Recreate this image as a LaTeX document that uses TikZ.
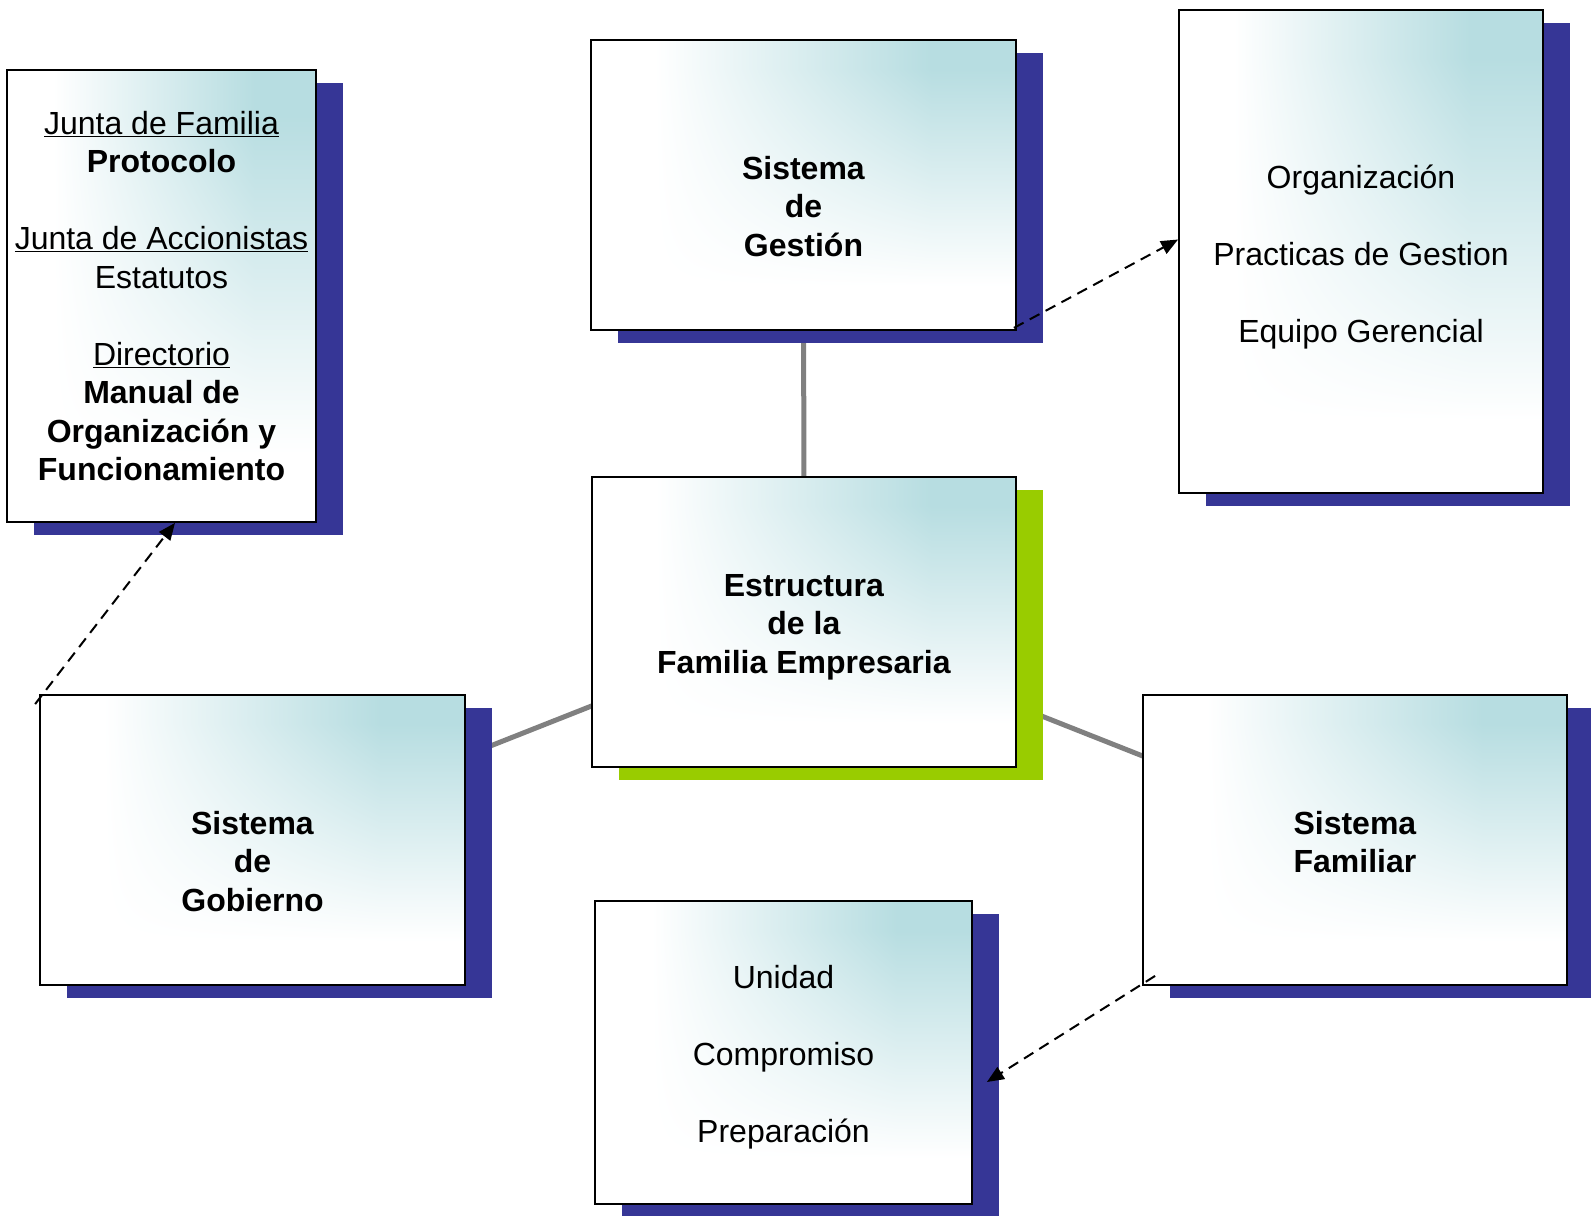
\documentclass[tikz,border=0pt]{standalone}
\usepackage{fontspec}
\setmainfont{Liberation Sans}
\usetikzlibrary{positioning,shadows,arrows.meta,backgrounds}

\definecolor{azulsombra}{RGB}{54,54,150}
\definecolor{verdesombra}{RGB}{153,204,0}

% degradado blanco -> celeste hacia la esquina superior derecha
\pgfdeclarefunctionalshading{degradado}{\pgfpointorigin}{\pgfpoint{100bp}{100bp}}{}{
  25 sub 50 div 0.15 sub 0.75 div dup 0 lt {pop 0} if dup 1 gt {pop 1} if
  exch 25 sub 50 div 0.15 sub 0.65 div dup 0 lt {pop 0} if dup 1 gt {pop 1} if
  mul
  dup 0.282 mul 1 exch sub exch
  dup 0.133 mul 1 exch sub exch
  0.118 mul 1 exch sub
}

\newcommand{\tope}[1]{\rule{0pt}{#1}}

\tikzset{
  caja/.style={draw, line width=1.8pt, rectangle, inner sep=0pt, align=center,
    shade, shading=degradado,
    font=\fontsize{32}{38.5}\selectfont,
    drop shadow={shadow xshift=27pt, shadow yshift=-13pt, opacity=1, fill=#1}},
  caja/.default=azulsombra,
  enlace/.style={line width=5pt, color=gray},
  flecha/.style={line width=2pt, dash pattern=on 11pt off 7pt, -{Triangle[length=17pt,width=14pt]}}
}

\begin{document}
\begin{tikzpicture}[x=1pt, y=-1pt]
\useasboundingbox (0,0) rectangle (1591,1216);

\node[caja, minimum width=309pt, minimum height=452pt] (reglas) at (161.5,296)
  {\underline{Junta de Familia}\\ \textbf{Protocolo}\\ \mbox{}\\
   \underline{Junta de Accionistas}\\ Estatutos\\ \mbox{}\\
   \underline{Directorio}\\ \textbf{Manual de}\\ \textbf{Organización y}\\ \textbf{Funcionamiento}};
\node[caja, minimum width=425pt, minimum height=290pt] (gestion) at (803.5,185)
  {\tope{66pt}\textbf{Sistema}\\ \textbf{de}\\ \textbf{Gestión}};
\node[caja, minimum width=364pt, minimum height=483pt] (organiz) at (1361,251.5)
  {\tope{35pt}Organización\\ \mbox{}\\ Practicas de Gestion\\ \mbox{}\\ Equipo Gerencial};
\node[caja=verdesombra, minimum width=424pt, minimum height=290pt] (estruct) at (804,622)
  {\tope{32pt}\textbf{Estructura}\\ \textbf{de la}\\ \textbf{Familia Empresaria}};
\node[caja, minimum width=425pt, minimum height=290pt] (gobierno) at (252.5,840)
  {\tope{66pt}\textbf{Sistema}\\ \textbf{de}\\ \textbf{Gobierno}};
\node[caja, minimum width=424pt, minimum height=290pt] (familiar) at (1355,840)
  {\tope{27.5pt}\textbf{Sistema}\\ \textbf{Familiar}};
\node[caja, minimum width=377pt, minimum height=303pt] (unidad) at (783.5,1052.5)
  {\tope{33.5pt}Unidad\\ \mbox{}\\ Compromiso\\ \mbox{}\\ Preparación};

% lineas grises entre sistemas
\begin{scope}[on background layer]
\draw[enlace] (gestion.center) -- (estruct.center);
\draw[enlace] (estruct.center) -- (gobierno.center);
\draw[enlace] (estruct.center) -- (familiar.center);
\end{scope}

% flechas punteadas
\draw[flecha] ([xshift=-3pt,yshift=3pt]gestion.south east) -- ([yshift=12pt]organiz.west);
\draw[flecha] ([xshift=-4pt,yshift=-10pt]gobierno.north west) -- ([xshift=13.5pt]reglas.south);
\draw[flecha] ([xshift=13pt,yshift=10pt]familiar.south west) -- ([xshift=14pt,yshift=-29.5pt]unidad.east);

\end{tikzpicture}
\end{document}
